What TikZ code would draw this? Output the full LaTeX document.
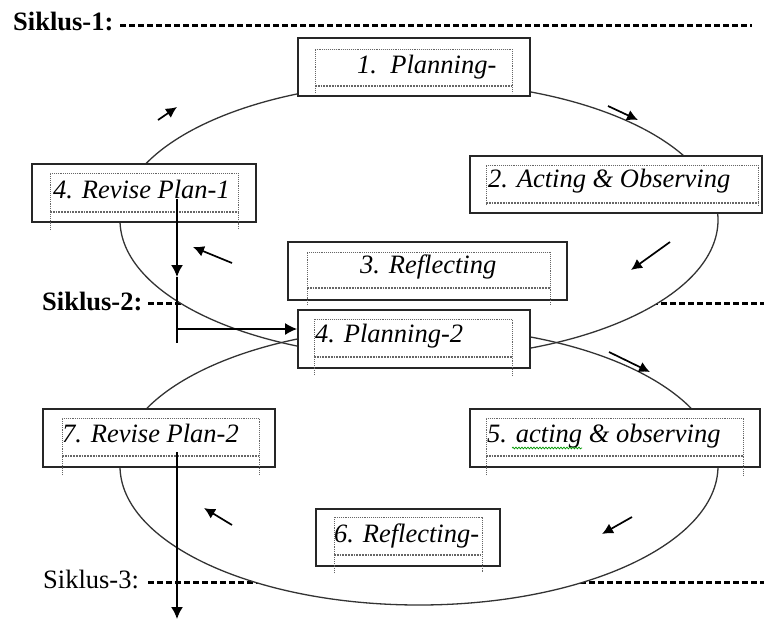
\documentclass[tikz,border=0pt]{standalone}
\usepackage{fontspec}
\setmainfont{Liberation Serif}
\usetikzlibrary{arrows.meta,decorations.pathmorphing}

\tikzset{
  wordbox/.style={draw=black!85, line width=1.8pt, fill=white, inner sep=0pt},
  boxtext/.style={anchor=base west, inner sep=0pt, font=\fontsize{26.5}{30}\selectfont\itshape},
  cyclelabel/.style={anchor=base west, inner sep=0pt, font=\fontsize{26.5}{30}\selectfont},
  cycleline/.style={line width=3pt, dash pattern=on 6pt off 3pt},
  hidden/.style={black!60, densely dotted, line width=0.9pt},
  flow/.style={line width=1.6pt, -{Latex[length=12pt,width=12pt]}},
  turn/.style={line width=1.7pt, -{Latex[length=11pt,width=11pt]}}
}

% dotted text frame: x1, top, x2, bottom line, leg end
\newcommand{\hiddenframe}[5]{%
  \draw[hidden] (#1,#5) -- (#1,#2) -- (#3,#2) -- (#3,#5);
  \draw[hidden, line width=1.8pt] (#1,#4) -- (#3,#4);
}

\begin{document}
\begin{tikzpicture}[x=1pt, y=-1pt]
    \useasboundingbox (0,0) rectangle (764,619);

    % Cycle lines
    \node[cyclelabel, font=\fontsize{26.5}{30}\selectfont\bfseries] (siklus1) at (13,30) {Siklus-1:};
    \node[cyclelabel, font=\fontsize{26.5}{30}\selectfont\bfseries] (siklus2) at (42,310) {Siklus-2:};
    \node[cyclelabel] (siklus3) at (43,588) {Siklus-3:};
    \draw[cycleline] (120,25) -- (752,25);
    \draw[cycleline] (148,303) -- (764,303);
    \draw[cycleline] (148,582) -- (764,582);

    % The two cycles
    \fill[white] (419,220) ellipse [x radius=299pt, y radius=138pt];
    \fill[white] (419,466) ellipse [x radius=299pt, y radius=139pt];
    \draw[black!80, line width=1.3pt] (419,220) ellipse [x radius=299pt, y radius=138pt];
    \draw[black!80, line width=1.3pt] (419,466) ellipse [x radius=299pt, y radius=139pt];

    % Cycle 1
    \node[wordbox, minimum width=232pt, minimum height=58pt] (plan1) at (414,67) {};
    \hiddenframe{315}{49}{512}{86}{93}
    \node[boxtext] (plan1txt) at (357,73) {1.\ \ Planning-};

    \node[wordbox, minimum width=292pt, minimum height=57pt] (act1) at (616,184.5) {};
    \hiddenframe{486}{165}{758}{203}{205}
    \node[boxtext] (act1txt) at (488,187) {2. Acting \& Observing};

    \node[wordbox, minimum width=279pt, minimum height=58pt] (refl1) at (427.5,271) {};
    \hiddenframe{307}{252}{550}{288}{305}
    \node[boxtext] (refl1txt) at (360,273) {3. Reflecting};

    \node[wordbox, minimum width=224pt, minimum height=58pt] (rev1) at (144,193) {};
    \hiddenframe{50}{173}{238}{212}{230}
    \node[boxtext] (rev1txt) at (53,198) {4. Revise Plan-1};

    % Cycle 2
    \node[wordbox, minimum width=232pt, minimum height=58pt] (plan2) at (414,339) {};
    \hiddenframe{314}{319}{512}{357}{375}
    \node[boxtext] (plan2txt) at (315,342) {4. Planning-2};

    \node[wordbox, minimum width=290pt, minimum height=58pt] (act2) at (615,438) {};
    \hiddenframe{486}{418}{743}{456}{475}
    \node[boxtext] (act2txt) at (487,442) {5. acting \& observing};
    \draw[green!60!black, line width=0.7pt, decorate, decoration={snake, amplitude=0.9pt, segment length=3pt}] (512,448) -- (582,448);

    \node[wordbox, minimum width=184pt, minimum height=57pt] (refl2) at (408,537.5) {};
    \hiddenframe{334}{517}{482}{555}{573}
    \node[boxtext] (refl2txt) at (334,542) {6. Reflecting-};

    \node[wordbox, minimum width=232pt, minimum height=58pt] (rev2) at (159,438) {};
    \hiddenframe{62}{418}{259}{456}{475}
    \node[boxtext] (rev2txt) at (62,442) {7. Revise Plan-2};

    % Revised plans lead on
    \coordinate (drop1) at (177,199);
    \coordinate (mid1) at (177,277);
    \coordinate (end1) at (177,343);
    \coordinate (turn1) at (177,329);
    \draw[flow] (drop1) -- (mid1);
    \draw[line width=1.6pt] (mid1) -- (end1);
    \draw[flow] (turn1) -- (turn1 -| plan2.west);

    \coordinate (drop2) at (177,452);
    \coordinate (end2) at (177,619);
    \draw[flow] (drop2) -- (end2);

    % Direction of the cycles
    \draw[turn] (158,120) -- (177,107);
    \draw[turn] (608,106) -- (638,120);
    \draw[turn] (670,242) -- (631,270);
    \draw[turn] (232,263) -- (193,247);
    \draw[turn] (609,352) -- (650,372);
    \draw[turn] (632,517) -- (602,534);
    \draw[turn] (232,525) -- (204,508);
\end{tikzpicture}
\end{document}
